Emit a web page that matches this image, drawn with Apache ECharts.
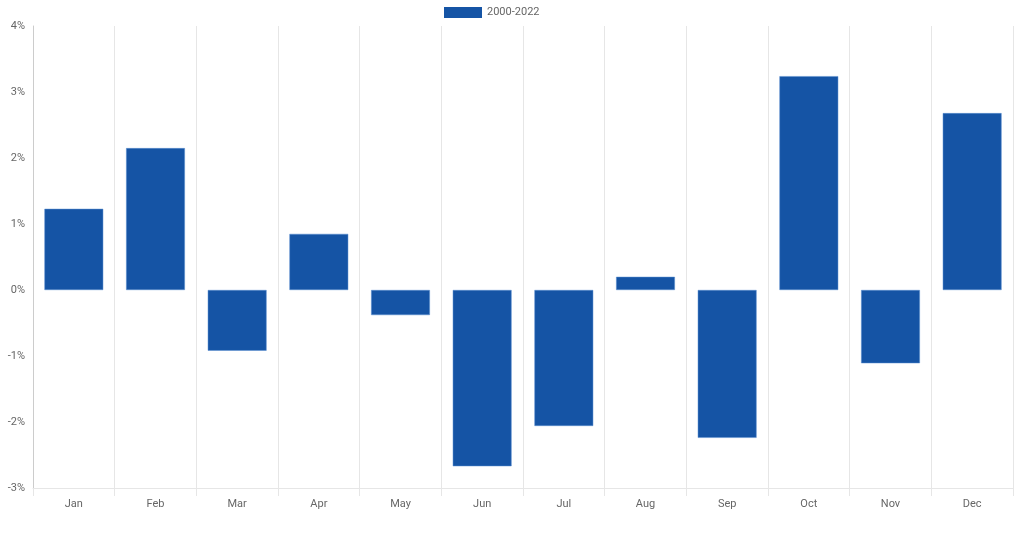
<!DOCTYPE html>
<html><head><meta charset="utf-8">
<script src="https://cdn.jsdelivr.net/npm/echarts@6/dist/echarts.min.js"></script>
<style>html,body{margin:0;padding:0;background:#fff}#c{width:1024px;height:538px}</style>
</head><body><div id="c"></div>
<script>
const categories = ['Jan','Feb','Mar','Apr','May','Jun','Jul','Aug','Sep','Oct','Nov','Dec'];
const seriesName = '2000-2022';
const values = [1.23, 2.15, -0.92, 0.85, -0.38, -2.67, -2.06, 0.20, -2.24, 3.24, -1.11, 2.68];

const chart = echarts.init(document.getElementById('c'));
chart.setOption({
  animation: false,
  textStyle: {fontFamily: 'Roboto, sans-serif'},
  legend: {
    top: 2, left: 439,
    itemWidth: 38, itemHeight: 11,
    icon: 'rect',
    itemStyle: {borderWidth: 0},
    textStyle: {color: '#666', fontSize: 11},
    data: [seriesName]
  },
  grid: {left: 33, right: 11, top: 26, bottom: 50},
  xAxis: {
    type: 'category',
    data: categories,
    axisLine: {onZero: false, lineStyle: {color: '#e6e6e6'}},
    axisTick: {show: true, length: 8, lineStyle: {color: '#e6e6e6'}},
    splitLine: {show: true, lineStyle: {color: '#e6e6e6'}},
    axisLabel: {color: '#666', fontSize: 11, margin: 11}
  },
  yAxis: {
    type: 'value',
    min: -3, max: 4, interval: 1,
    axisLine: {show: true, lineStyle: {color: '#ccc'}},
    axisTick: {show: false},
    splitLine: {show: false},
    axisLabel: {color: '#666', fontSize: 11, formatter: '{value}%', margin: 8}
  },
  series: [{
    name: seriesName,
    type: 'bar',
    data: values,
    barWidth: '72%',
    itemStyle: {color: '#1554a5', borderColor: '#5b8fd0', borderWidth: 0.5}
  }]
});
</script></body></html>
